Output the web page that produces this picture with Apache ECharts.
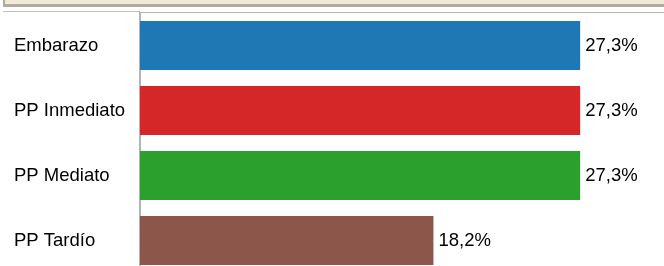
<!DOCTYPE html>
<html lang="es">
<head>
    <meta charset="UTF-8">
    <title>Etapas</title>
    <style>
        html, body { margin: 0; padding: 0; background: #fff; overflow: hidden; }
    </style>
</head>
<body>
<script src="https://cdn.jsdelivr.net/npm/echarts@6/dist/echarts.min.js"></script>
<div id="main" style="width: 664px;height:280px;"></div>

<script>
    // categorias y valores (%)
    var categorias = ['Embarazo', 'PP Inmediato', 'PP Mediato', 'PP Tardío'];
    var valores = [27.3, 27.3, 27.3, 18.2];
    var colores = ['#1f77b4', '#d62728', '#2ca02c', '#8c564b'];

    var myChart = echarts.init(document.getElementById('main'));

    var datos = [];
    for (var i = 0; i < valores.length; i++) {
        datos.push({ value: valores[i], itemStyle: { color: colores[i] } });
    }

    var option = {
        animation: false,
        textStyle: { fontFamily: 'Liberation Sans, Arial, sans-serif' },
        grid: { left: 140, right: 0, top: 13, height: 260 },
        xAxis: {
            type: 'value',
            min: 0,
            max: 32.5,
            show: false
        },
        yAxis: {
            type: 'category',
            inverse: true,
            data: categorias,
            axisLine: { show: true, lineStyle: { color: '#b4b4b4', width: 1 } },
            axisTick: { show: false },
            axisLabel: {
                align: 'left',
                margin: 126,
                fontSize: 18.5,
                color: '#000'
            }
        },
        series: [{
            type: 'bar',
            data: datos,
            barWidth: 49,
            label: {
                show: true,
                position: 'right',
                distance: 5,
                fontSize: 18.5,
                color: '#000',
                formatter: function (p) {
                    return p.value.toFixed(1).replace('.', ',') + '%';
                }
            }
        }],
        // marco de arriba
        graphic: [
            { type: 'rect', shape: { x: 3, y: 0, width: 661, height: 4 }, style: { fill: '#f1e9d7' }, silent: true },
            { type: 'rect', shape: { x: 3, y: 4, width: 661, height: 3 }, style: { fill: '#b1ab9c' }, silent: true },
            { type: 'rect', shape: { x: 3, y: 0, width: 2, height: 7 }, style: { fill: '#b1ab9c' }, silent: true },
            { type: 'rect', shape: { x: 3, y: 11, width: 137, height: 1 }, style: { fill: '#c4c4c4' }, silent: true },
            { type: 'rect', shape: { x: 139, y: 12, width: 525, height: 1 }, style: { fill: '#b4b4b4' }, silent: true },
            { type: 'rect', shape: { x: 139, y: 11, width: 1, height: 262 }, style: { fill: '#b4b4b4' }, silent: true }
        ]
    };

    myChart.setOption(option);
</script>
</body>
</html>
